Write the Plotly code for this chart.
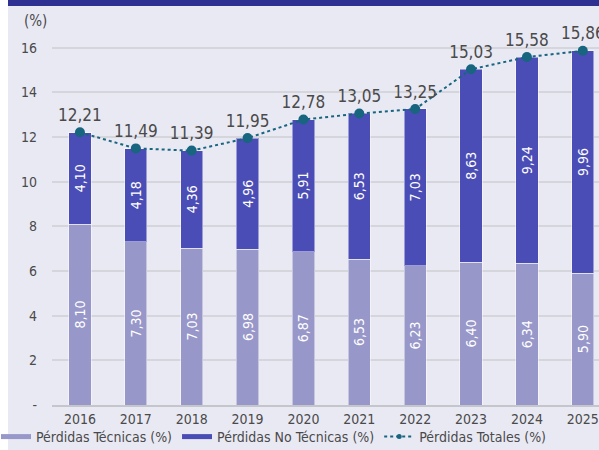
import plotly.graph_objects as go

years = ["2016", "2017", "2018", "2019", "2020", "2021", "2022", "2023", "2024", "2025"]
tecnicas = [8.10, 7.30, 7.03, 6.98, 6.87, 6.53, 6.23, 6.40, 6.34, 5.90]
no_tecnicas = [4.10, 4.18, 4.36, 4.96, 5.91, 6.53, 7.03, 8.63, 9.24, 9.96]
totales = [12.21, 11.49, 11.39, 11.95, 12.78, 13.05, 13.25, 15.03, 15.58, 15.86]
y_ticks = [0, 2, 4, 6, 8, 10, 12, 14, 16]
y_ticktext = ["-", "2", "4", "6", "8", "10", "12", "14", "16"]

FONT = "DejaVu Sans Condensed"
C_TEC = "#9897C9"
C_NOT = "#4B4DB6"
C_TOT = "#17657F"
TXT = "#4A4A4A"

fig = go.Figure()
fig.add_trace(go.Bar(
    x=years, y=tecnicas, name="Pérdidas Técnicas (%)", showlegend=False,
    marker=dict(color=C_TEC, line=dict(color="rgba(255,255,255,0.45)", width=1)),
    texttemplate="%{y:.2f}", textposition="inside", insidetextanchor="middle",
    textangle=-90, textfont=dict(color="white", size=14, family=FONT),
    width=0.4,
))
fig.add_trace(go.Bar(
    x=years, y=no_tecnicas, name="Pérdidas No Técnicas (%)", showlegend=False,
    marker=dict(color=C_NOT, line=dict(color="rgba(255,255,255,0.45)", width=1)),
    texttemplate="%{y:.2f}", textposition="inside", insidetextanchor="middle",
    textangle=-90, textfont=dict(color="white", size=14, family=FONT),
    width=0.4,
))
fig.add_trace(go.Scatter(
    x=years, y=totales, name="Pérdidas Totales (%)", showlegend=False,
    mode="lines+markers+text",
    line=dict(color=C_TOT, width=2, dash="dot"),
    marker=dict(color=C_TOT, size=10),
    texttemplate="%{y:.2f}", textposition="top center",
    textfont=dict(color=TXT, size=17, family=FONT),
    cliponaxis=False,
))
# legend-only entries
fig.add_trace(go.Scatter(x=[None], y=[None], mode="lines", name="Pérdidas Técnicas (%)",
                         line=dict(color=C_TEC, width=5)))
fig.add_trace(go.Scatter(x=[None], y=[None], mode="lines", name="Pérdidas No Técnicas (%)",
                         line=dict(color=C_NOT, width=5)))
fig.add_trace(go.Scatter(x=[None], y=[None], mode="lines+markers", name="Pérdidas Totales (%)",
                         line=dict(color=C_TOT, width=2, dash="dot"),
                         marker=dict(color=C_TOT, size=5)))

fig.update_layout(
    width=599, height=450,
    margin=dict(l=52, r=0, t=3, b=45, autoexpand=False),
    barmode="stack",
    separators=",.",
    paper_bgcolor="#E9E9F4",
    plot_bgcolor="#E9E9F4",
    font=dict(family=FONT, color=TXT, size=14),
    legend=dict(orientation="h", x=(-4 - 52) / 547, y=(405 - 437) / 402,
                xanchor="left", yanchor="middle", font=dict(size=14, color=TXT, family=FONT),
                traceorder="normal", itemwidth=30, tracegroupgap=0, bgcolor="rgba(0,0,0,0)"),
    xaxis=dict(range=[-0.5, 9.29], showgrid=False, showline=True, linecolor="#C5C5CC",
               linewidth=2, tickfont=dict(size=14, color=TXT), ticks="", fixedrange=True,
               automargin=False),
    yaxis=dict(range=[0, 18], tickvals=y_ticks, ticktext=y_ticktext, showgrid=True,
               gridcolor="#D5D5DC", gridwidth=2, zeroline=False, ticklabelstandoff=14,
               tickfont=dict(size=14, color=TXT), fixedrange=True, automargin=False),
    annotations=[dict(text="(%)", xref="paper", yref="paper", x=-0.03, y=0.955,
                      xanchor="center", yanchor="middle", showarrow=False,
                      font=dict(size=15, color=TXT, family=FONT))],
    shapes=[
        dict(type="rect", xref="paper", yref="paper", x0=-0.1, x1=1.01,
             y0=(405 - 6) / 402, y1=1.02, fillcolor="#2E3192", line=dict(width=0), layer="above"),
        dict(type="rect", xref="paper", yref="paper", x0=-0.1, x1=(8 - 52) / 547,
             y0=-0.2, y1=1.02, fillcolor="white", line=dict(width=0), layer="above"),
    ],
)

fig.write_html("out.html", config={"displayModeBar": False},
               post_script="document.body.style.margin='0';document.body.style.overflow='hidden';")
